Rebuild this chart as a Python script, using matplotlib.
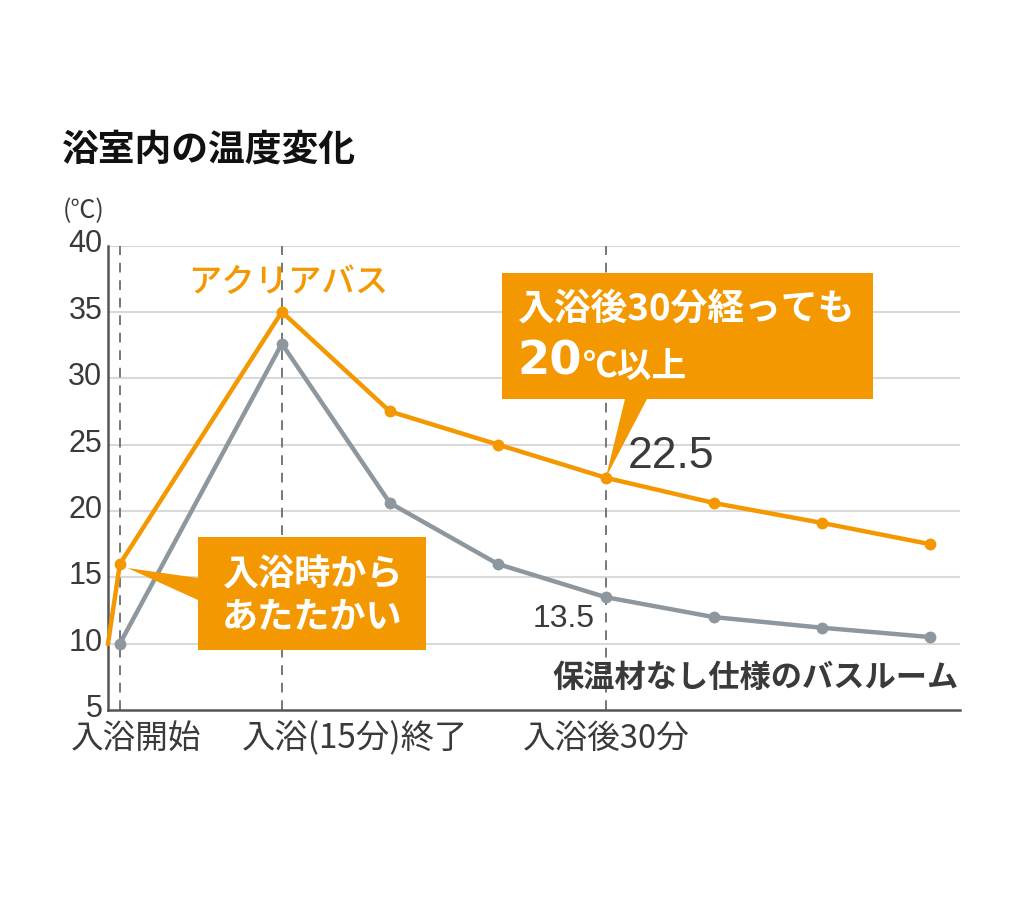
import matplotlib
matplotlib.use("Agg")
import matplotlib.pyplot as plt
from matplotlib.patches import Polygon
from matplotlib.transforms import ScaledTranslation

# ---------------- data ----------------
minutes = [0, 15, 25, 35, 45, 55, 65, 75]
aqua_start_x = -1.1          # line starts at the left edge of the axes
aqua_start_y = 10
aqua_temp = [16, 35, 27.5, 25, 22.5, 20.6, 19.1, 17.5]
plain_temp = [10, 32.6, 20.6, 16, 13.5, 12, 11.2, 10.5]

y_ticks = [5, 10, 15, 20, 25, 30, 35, 40]
event_minutes = [0, 15, 45]
event_labels = ["入浴開始", "入浴(15分)終了", "入浴後30分"]

title = "浴室内の温度変化"
unit = "(℃)"
series1_name = "アクリアバス"
series2_name = "保温材なし仕様のバスルーム"
callout1 = "入浴時から\nあたたかい"
callout2_line1 = "入浴後30分経っても"
callout2_big = "20"
callout2_rest = "℃以上"
label_aqua_45 = "22.5"
label_plain_45 = "13.5"

ORANGE = "#F39800"
GRAY = "#8E979D"
TEXT = "#3A3A3A"
CJK = ["Noto Sans CJK JP", "DejaVu Sans"]
LAT = ["Liberation Sans", "DejaVu Sans"]

W, H = 1024, 901
fig = plt.figure(figsize=(W / 100, H / 100), dpi=100)

def fx(px):
    return px / W

def fy(py):
    return 1 - py / H

ax_l, ax_r, ax_t, ax_b = 108, 960, 245.5, 710
ax = fig.add_axes([fx(ax_l), fy(ax_b), fx(ax_r) - fx(ax_l), fy(ax_t) - fy(ax_b)])
ax.set_xlim(-1.1, 77.8)
ax.set_ylim(5, 40)

# grid
for v in y_ticks[1:]:
    ax.axhline(v, color="#D9D9D9", lw=1.5, zorder=1)
for m in event_minutes:
    ax.axvline(m, color="#777777", lw=1.4, ls=(0, (5, 4)), zorder=1.5)

ax.spines["top"].set_visible(False)
ax.spines["right"].set_visible(False)
for s in ("left", "bottom"):
    ax.spines[s].set_color("#555555")
    ax.spines[s].set_linewidth(1.8)

ax.set_yticks(y_ticks)
ax.set_yticklabels([str(v) for v in y_ticks], family=LAT, fontsize=22, color=TEXT)
ax.tick_params(axis="y", length=0, pad=4)
up = ScaledTranslation(0, 0.045, fig.dpi_scale_trans)
for lab in ax.get_yticklabels():
    lab.set_transform(lab.get_transform() + up)
ax.set_xticks([])

# lines
ax.plot(minutes, plain_temp, color=GRAY, lw=3.2, marker="o", ms=7.5,
        zorder=3, clip_on=False)
ax.plot([aqua_start_x] + minutes, [aqua_start_y] + aqua_temp, color=ORANGE, lw=3.2,
        marker="o", ms=7.5, markevery=list(range(1, len(minutes) + 1)),
        zorder=4, clip_on=False)

# pixel -> data helpers for annotation layout
def dx(px):
    return -1.1 + (px - ax_l) / (ax_r - ax_l) * (77.8 + 1.1)

def dy(py):
    return 5 + (ax_b - py) / (ax_b - ax_t) * 35

# callout 1
b1 = [(dx(198), dy(537)), (dx(426), dy(537)), (dx(426), dy(650)), (dx(198), dy(650)),
      (dx(198), dy(600)), (minutes[0] + 0.7, aqua_temp[0] - 0.3), (dx(198), dy(578))]
ax.add_patch(Polygon(b1, closed=True, fc=ORANGE, ec="none", zorder=6, clip_on=False))
fig.text(fx(312), fy(596), callout1, family=CJK, fontsize=26, fontweight="bold",
         color="white", ha="center", va="center", linespacing=1.2, zorder=7)

# callout 2
b2 = [(dx(502), dy(273)), (dx(873), dy(273)), (dx(873), dy(399)), (dx(647), dy(399)),
      (minutes[4], aqua_temp[4]), (dx(625), dy(399)), (dx(502), dy(399))]
ax.add_patch(Polygon(b2, closed=True, fc=ORANGE, ec="none", zorder=6, clip_on=False))
fig.text(fx(517), fy(309), callout2_line1, family=CJK, fontsize=26.5, fontweight="bold",
         color="white", ha="left", va="center", zorder=7)
fig.text(fx(517), fy(375), callout2_big, family=["DejaVu Sans"], fontsize=33.5,
         fontweight="bold", color="white", ha="left", va="baseline", zorder=7)
fig.text(fx(582), fy(366), callout2_rest, family=CJK, fontsize=25, fontweight="bold",
         color="white", ha="left", va="center", zorder=7)

# value labels
fig.text(fx(628), fy(457), label_aqua_45, family=LAT, fontsize=32, color=TEXT,
         ha="left", va="center")
fig.text(fx(533), fy(619), label_plain_45, family=LAT, fontsize=23, color=TEXT,
         ha="left", va="center")

# series names
fig.text(fx(188), fy(283), series1_name, family=CJK, fontsize=24, fontweight="medium",
         color=ORANGE, ha="left", va="center")
fig.text(fx(959), fy(678), series2_name, family=CJK, fontsize=22.5, fontweight="bold",
         color=TEXT, ha="right", va="center")

# event labels under the axis
ylab = fy(739)
fig.text(fx(71), ylab, event_labels[0], family=CJK, fontsize=23.5, color=TEXT,
         ha="left", va="center")
fig.text(fx(242), ylab, event_labels[1], family=CJK, fontsize=24, color=TEXT,
         ha="left", va="center")
fig.text(fx(606), ylab, event_labels[2], family=CJK, fontsize=23.5, color=TEXT,
         ha="center", va="center")

# title and unit
fig.text(fx(62), fy(150), title, family=CJK, fontsize=26.5, fontweight="bold",
         color="#111111", ha="left", va="center")
fig.text(fx(63), fy(211), unit, family=CJK, fontsize=18, color=TEXT,
         ha="left", va="center")

fig.savefig("out.png", dpi=100)
